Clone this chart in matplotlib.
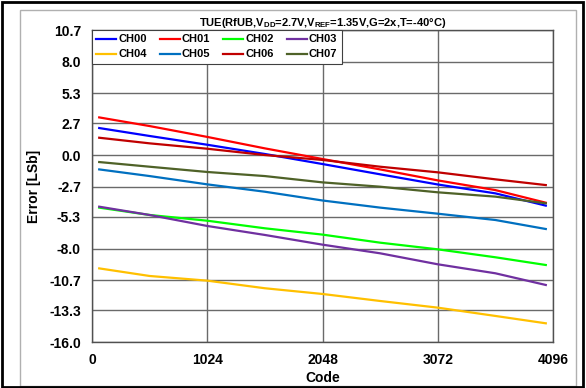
import matplotlib
matplotlib.use("Agg")
import matplotlib.pyplot as plt
from matplotlib.patches import Rectangle

plt.rcParams['font.family'] = ['Liberation Sans', 'DejaVu Sans']
plt.rcParams['font.weight'] = 'bold'
plt.rcParams['mathtext.fontset'] = 'custom'
plt.rcParams['mathtext.rm'] = 'Liberation Sans:bold'
plt.rcParams['mathtext.bf'] = 'Liberation Sans:bold'

# values at these codes
codes = [64, 512, 1024, 1536, 2048, 2560, 3072, 3584, 4032]

ch00 = [2.31, 1.63, 0.88, 0.09, -0.77, -1.65, -2.52, -3.28, -4.33]
ch01 = [3.22, 2.48, 1.55, 0.57, -0.34, -1.23, -2.17, -3.00, -4.08]
ch02 = [-4.50, -5.13, -5.62, -6.27, -6.81, -7.50, -8.07, -8.75, -9.41]
ch03 = [-4.42, -5.13, -6.07, -6.84, -7.67, -8.41, -9.35, -10.12, -11.12]
ch04 = [-9.70, -10.35, -10.75, -11.40, -11.89, -12.49, -13.06, -13.77, -14.40]
ch05 = [-1.23, -1.80, -2.51, -3.14, -3.89, -4.50, -5.02, -5.56, -6.33]
ch06 = [1.48, 1.00, 0.54, 0.00, -0.42, -1.00, -1.48, -2.08, -2.57]
ch07 = [-0.60, -1.00, -1.45, -1.80, -2.34, -2.71, -3.19, -3.56, -4.13]

names = ['CH00', 'CH01', 'CH02', 'CH03', 'CH04', 'CH05', 'CH06', 'CH07']
series = [ch00, ch01, ch02, ch03, ch04, ch05, ch06, ch07]
colors = ['#0000FF', '#FF0000', '#00FF00', '#7030A0',
          '#FFC000', '#0070C0', '#C00000', '#4F6228']

yticks = [10.7, 8.0, 5.3, 2.7, 0.0, -2.7, -5.3, -8.0, -10.7, -13.3, -16.0]
xticks = [0, 1024, 2048, 3072, 4096]

fig = plt.figure(figsize=(5.86, 3.88), dpi=100)
ax = fig.add_axes([92 / 586, 1 - 342 / 388, (553 - 92) / 586, (342 - 30) / 388])

lines = {}
for name, vals, c in zip(names, series, colors):
    lines[name], = ax.plot(codes, vals, color=c, lw=1.6, label=name)

ax.set_xlim(0, 4096)
ax.set_ylim(-16.0, 10.7)
ax.set_xticks(xticks)
ax.set_yticks(yticks)
ax.set_yticklabels([f"{v:.1f}" for v in yticks])
ax.tick_params(length=0, labelsize=10, pad=8)
ax.grid(True, color='#6a6a6a', lw=1.0)
ax.set_axisbelow(True)
for sp in ax.spines.values():
    sp.set_color('#505050')
    sp.set_linewidth(1.0)

ax.set_xlabel("Code", fontsize=10, fontweight='bold', labelpad=3)
ax.set_ylabel("Error [LSb]", fontsize=10, fontweight='bold', labelpad=6)
ax.set_title(r"TUE(RfUB,V$_{\mathbf{DD}}$=2.7V,V$_{\mathbf{REF}}$=1.35V,G=2x,T=-40°C)",
             fontsize=8, fontweight='bold', pad=3)

# legend fills column-wise, so reorder to get CH00..CH03 on the first row
order = ['CH00', 'CH04', 'CH01', 'CH05', 'CH02', 'CH06', 'CH03', 'CH07']
leg = ax.legend([lines[n] for n in order], order, ncol=4, loc='upper left',
                bbox_to_anchor=(0, 1), borderaxespad=0, fancybox=False,
                framealpha=1, edgecolor='#404040', fontsize=8,
                handlelength=1.8, handletextpad=0.15, columnspacing=1.2,
                borderpad=0.4, labelspacing=0.45)
leg.get_frame().set_linewidth(0.8)

# outer frames of the picture
fig.patches.append(Rectangle((20 / 586, 2 / 388), 556 / 586, 376 / 388,
                             transform=fig.transFigure, fill=False,
                             edgecolor='#b0b0b0', lw=1.0))
fig.patches.append(Rectangle((2 / 586, 1 / 388), 581 / 586, 385 / 388,
                             transform=fig.transFigure, fill=False,
                             edgecolor='black', lw=2.0))

fig.savefig("out.png", dpi=100)
